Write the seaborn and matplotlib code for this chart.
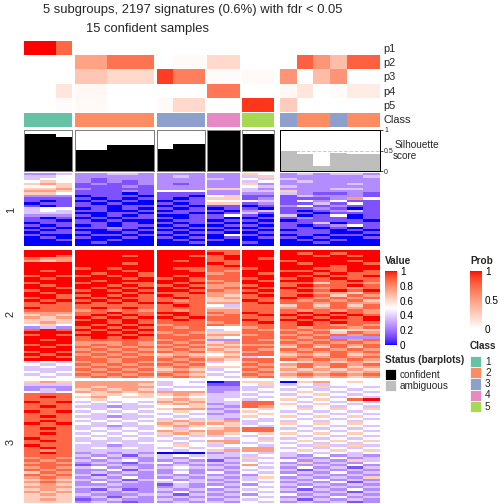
import numpy as np
import matplotlib
matplotlib.use("Agg")
import matplotlib.pyplot as plt
import seaborn as sns
from matplotlib.colors import ListedColormap, Normalize, to_rgb
from matplotlib.patches import Rectangle
from matplotlib.cm import ScalarMappable

sns.set_style("white")
plt.rcParams['font.family'] = ['Liberation Sans', 'DejaVu Sans']

# ---- data ----
group_sizes = [3, 5, 3, 2, 2, 6]          # last group = ambiguous samples
sample_class = [1, 1, 1, 2, 2, 2, 2, 2, 3, 3, 3, 4, 4, 5, 5, 3, 2, 2, 3, 2, 2]
silhouette = [0.90, 0.90, 0.82, 0.51, 0.51, 0.63, 0.63, 0.63, 0.54, 0.66, 0.66,
              0.98, 0.98, 0.90, 0.90, 0.50, 0.41, 0.12, 0.45, 0.42, 0.42]
p1 = [1.00, 1.00, 0.75, 0, 0, 0, 0, 0, 0, 0, 0, 0, 0, 0, 0, 0, 0, 0, 0, 0, 0]
p2 = [0, 0, 0, 0.48, 0.48, 0.70, 0.70, 0.70, 0, 0.03, 0.03, 0.20, 0.20, 0, 0,
      0, 0.78, 0.55, 0.35, 0.78, 0.78]
p3 = [0, 0, 0, 0.30, 0.30, 0.20, 0.20, 0.20, 0.90, 0.65, 0.65, 0.02, 0.02, 0.03, 0.03,
      0.55, 0, 0.35, 0.55, 0, 0]
p4 = [0, 0, 0.13, 0.04, 0.04, 0, 0, 0, 0, 0, 0, 0.68, 0.68, 0, 0,
      0.04, 0.13, 0, 0.02, 0.10, 0.10]
p5 = [0, 0, 0.02, 0.03, 0.03, 0, 0, 0, 0.03, 0.20, 0.20, 0, 0, 0.92, 0.92,
      0.27, 0, 0, 0, 0, 0]
class_colors = ["#66C2A5", "#FC8D62", "#8DA0CB", "#E78AC3", "#A6D854"]

# heatmap rows, one digit per sample: value = digit / 8  (0 blue, 4 white, 8 red)
block1 = [
    "223 22332 222 22 54 232332", "334 22222 232 22 35 222223", "344 21222 222 32 43 322222",
    "454 21212 222 22 34 232222", "565 12112 212 22 52 222232", "445 11121 222 22 43 322222",
    "556 21111 222 55 32 222332", "665 11121 444 22 33 522222", "554 11101 111 22 22 321121",
    "222 01110 110 45 11 132221", "111 10101 101 55 12 111264", "101 01010 011 44 43 142411",
    "011 10100 101 55 12 113141", "101 11011 010 11 01 241211", "344 01010 101 01 10 112101",
    "343 11001 011 10 23 101231", "333 00110 110 01 31 110111", "222 10101 001 14 10 301401",
    "101 01011 101 10 01 121101", "110 10100 011 01 10 011110", "011 11010 101 10 01 113011",
    "101 01011 010 01 10 101241", "010 11210 101 10 01 110101", "101 00101 010 01 10 011010",
    "011 10010 101 10 01 111001", "100 01101 010 04 10 010110", "010 10010 101 01 01 101001",
    "001 00100 010 10 00 010100", "000 01000 001 00 10 001000", "000 00000 000 00 00 000000",
]
block2 = [
    "888 88888 888 77 88 888888", "888 88888 888 87 88 878788", "887 88878 887 78 88 887878",
    "766 88888 888 78 87 888888", "656 88888 878 77 88 788878", "888 88878 888 87 88 878887",
    "888 88888 888 78 88 888788", "888 78788 877 77 78 887788", "878 88878 887 76 88 778787",
    "888 87887 888 67 87 887877", "787 78787 878 77 88 878778", "878 88878 787 77 78 787877",
    "888 87888 887 67 87 887787", "788 78877 878 76 88 775776", "878 88787 787 66 78 787787",
    "887 87878 878 67 87 876767", "788 78787 887 76 78 787878", "878 88878 778 66 87 776657",
    "887 78787 877 65 78 787576", "787 87877 787 56 77 876767", "878 78787 767 55 87 767675",
    "787 87878 877 66 78 776766", "777 77777 787 43 77 575757", "877 78787 777 55 77 676767",
    "777 67676 767 66 77 767676", "666 77877 887 76 87 787876", "565 78787 787 67 78 878787",
    "656 87878 878 77 77 787878", "555 78787 787 77 87 878778", "565 88787 777 67 78 787877",
    "454 87878 677 76 77 787676", "232 78787 767 44 67 767767", "787 87878 777 34 76 676455",
    "888 78787 676 55 77 767576", "787 88878 767 66 67 676767", "888 78787 777 54 77 767222",
    "878 77777 676 22 76 676767", "888 66676 767 56 77 767676", "787 67676 676 65 66 676767",
    "878 76767 767 56 77 575757", "888 67676 676 65 76 767676", "787 76767 767 56 67 676767",
    "878 67676 565 45 77 565756", "787 76767 676 56 34 676767", "888 77677 767 65 77 767676",
    "343 67676 676 34 67 456565", "434 76767 767 44 76 676767", "343 67676 676 55 67 575756",
    "333 76767 565 34 76 656565", "434 67676 676 43 67 565656", "343 76767 765 34 76 676767",
    "434 67676 676 43 67 565656",
]
block3 = [
    "565 66666 343 01 55 056454", "333 66665 344 11 45 343444", "222 65666 433 22 33 435343",
    "232 56565 344 22 34 343434", "434 65656 666 23 43 454343", "777 45545 565 33 34 345434",
    "787 56455 454 33 43 434343", "777 45444 565 34 34 545478", "878 34343 656 33 77 434343",
    "777 43434 565 23 77 545434", "787 33233 445 32 76 434343", "777 43434 566 23 45 454545",
    "878 34343 454 32 54 343434", "777 43434 343 23 45 434343", "787 33233 434 33 54 545454",
    "777 43434 343 32 43 434343", "787 34343 565 56 33 343434", "878 43434 656 65 34 545454",
    "777 33233 565 45 43 434343", "787 34343 434 56 77 343434", "777 43434 656 66 77 434343",
    "787 34343 565 65 45 545454", "777 43434 343 34 34 434343", "877 34343 434 43 43 343434",
    "787 33333 343 66 45 454545", "777 43434 434 56 34 343434", "877 33233 454 34 43 435353",
    "787 34343 343 43 66 343434", "767 33333 434 56 66 454545", "787 23232 000 23 43 343434",
    "777 32313 343 33 34 324232", "676 24232 324 32 53 232423", "767 32342 232 13 34 423253",
    "676 23213 423 32 43 252324", "777 12322 232 23 64 323242", "676 34232 343 32 43 242313",
    "767 22413 232 23 34 313232", "576 23232 242 42 43 232423", "767 31322 323 23 24 423232",
    "676 23242 232 32 35 232325", "565 32313 423 23 34 324232", "676 24232 343 32 43 232413",
    "565 22322 132 23 24 323232", "666 33222 232 42 43 242323", "565 21312 323 23 34 313242",
    "656 23232 242 32 43 232313", "565 32223 313 23 24 423232", "555 23132 232 32 43 232423",
    "565 12322 323 23 34 313232", "555 23212 232 32 43 232312",
]
row_labels = ["1", "2", "3"]


# ---- colours interpolated in LAB like ComplexHeatmap ----
M = np.array([[0.4124, 0.3576, 0.1805], [0.2126, 0.7152, 0.0722], [0.0193, 0.1192, 0.9505]])
WHITE_PT = np.array([0.95047, 1.0, 1.08883])


def to_lab(c):
    rgb = np.array(to_rgb(c))
    lin = np.where(rgb <= 0.04045, rgb / 12.92, ((rgb + 0.055) / 1.055) ** 2.4)
    xyz = M @ lin / WHITE_PT
    f = np.where(xyz > 0.008856, np.cbrt(xyz), 7.787 * xyz + 16 / 116)
    return np.array([116 * f[1] - 16, 500 * (f[0] - f[1]), 200 * (f[1] - f[2])])


def from_lab(lab):
    fy = (lab[:, 0] + 16) / 116
    f = np.stack([fy + lab[:, 1] / 500, fy, fy - lab[:, 2] / 200], -1)
    xyz = np.where(f > 0.2069, f ** 3, (f - 16 / 116) / 7.787) * WHITE_PT
    lin = np.clip(xyz @ np.linalg.inv(M).T, 0, 1)
    rgb = np.where(lin <= 0.0031308, 12.92 * lin, 1.055 * lin ** (1 / 2.4) - 0.055)
    return np.clip(rgb, 0, 1)


def lab_cmap(colors):
    labs = np.array([to_lab(c) for c in colors])
    t = np.linspace(0, 1, 256)
    pos = np.linspace(0, 1, len(colors))
    lab = np.stack([np.interp(t, pos, labs[:, i]) for i in range(3)], -1)
    return ListedColormap(from_lab(lab))


value_cmap = lab_cmap(["#0000FF", "#FFFFFF", "#FF0000"])
prob_cmap = lab_cmap(["#FFFFFF", "#FF0000"])
class_cmap = ListedColormap(class_colors)


def parse(block):
    return np.array([[int(d) / 8 for d in r.replace(" ", "")] for r in block])


blocks = [parse(block1), parse(block2), parse(block3)]
probs = np.array([p1, p2, p3, p4, p5])
classes = np.array([sample_class])

# ---- layout in pixels ----
W = H = 504
fig = plt.figure(figsize=(7, 7), dpi=72)


def add_ax(x0, y0, x1, y1):
    return fig.add_axes([x0 / W, 1 - y1 / H, (x1 - x0) / W, (y1 - y0) / H])


def hm(data, ax, cmap, vmin=0, vmax=1):
    sns.heatmap(data, ax=ax, cmap=cmap, vmin=vmin, vmax=vmax, cbar=False,
                xticklabels=False, yticklabels=False, linewidths=0, antialiased=False)


ov = add_ax(0, 0, W, H)
ov.set_xlim(0, W)
ov.set_ylim(H, 0)
ov.axis("off")

group_x = [(24, 72), (75, 154), (157, 205), (207, 240), (242, 274), (280, 380)]
block_y = [(173, 246), (250, 378), (381, 503)]
starts = np.cumsum([0] + group_sizes)

for g, (x0, x1) in enumerate(group_x):
    sl = slice(starts[g], starts[g + 1])
    n = group_sizes[g]
    ambiguous = g == len(group_x) - 1

    hm(probs[:, sl], add_ax(x0, 41, x1, 112), prob_cmap)
    hm(classes[:, sl], add_ax(x0, 113, x1, 127), class_cmap, 0.5, 5.5)

    ax = add_ax(x0, 130, x1, 171)
    ax.axhline(0.5, color="#CCCCCC", ls="--", lw=1, zorder=0)
    sns.barplot(x=list(range(n)), y=silhouette[sl], ax=ax, width=1, saturation=1,
                color="#BEBEBE" if ambiguous else "black", linewidth=0, zorder=2)
    ax.set_xlim(-0.5, n - 0.5)
    ax.set_ylim(0, 1)
    ax.set_xticks([])
    ax.set_yticks([])
    ax.set_xlabel("")
    ax.set_ylabel("")
    for s in ax.spines.values():
        s.set_visible(True)
        s.set_color("black" if ambiguous else "#7F7F7F")
        s.set_linewidth(1)
    if ambiguous:
        ax.yaxis.tick_right()
        ax.set_yticks([0, 0.5, 1])
        ax.set_yticklabels(["0", "0.5", "1"])
        ax.tick_params(axis="y", right=True, length=3, width=0.8, pad=1, labelsize=7)

    for b, (y0, y1) in enumerate(block_y):
        hm(blocks[b][:, sl], add_ax(x0, y0, x1, y1), value_cmap)

# titles
fig.text(193 / W, 1 - 10 / H, "5 subgroups, 2197 signatures (0.6%) with fdr < 0.05",
         ha="center", va="center", fontsize=13)
fig.text(148 / W, 1 - 29 / H, "15 confident samples", ha="center", va="center", fontsize=13)

# annotation names
for name, y in zip(["p1", "p2", "p3", "p4", "p5", "Class"], [49, 63, 77, 92, 106, 120]):
    ov.text(383, y, name, ha="left", va="center", fontsize=11)
ov.text(395, 145, "Silhouette", ha="left", va="center", fontsize=10)
ov.text(393, 156, "score", ha="left", va="center", fontsize=10)

for lab, (y0, y1) in zip(row_labels, block_y):
    ov.text(11, (y0 + y1) / 2, lab, ha="center", va="center", fontsize=11, rotation=90)

# Value legend
ov.text(385, 261, "Value", ha="left", va="center", fontsize=10, fontweight="bold")
cax = add_ax(385, 271, 397, 345)
cb = fig.colorbar(ScalarMappable(Normalize(0, 1), value_cmap), cax=cax,
                  ticks=[0, 0.2, 0.4, 0.6, 0.8, 1])
cb.outline.set_visible(False)
cb.ax.set_yticklabels(["0", "0.2", "0.4", "0.6", "0.8", "1"])
cb.ax.tick_params(direction="in", colors="white", length=3, width=1, left=True,
                  labelcolor="black", labelsize=10, pad=3)

# Prob legend
ov.text(470, 261, "Prob", ha="left", va="center", fontsize=10, fontweight="bold")
cax = add_ax(470, 271, 482, 329)
cb = fig.colorbar(ScalarMappable(Normalize(0, 1), prob_cmap), cax=cax, ticks=[0, 0.5, 1])
cb.outline.set_visible(False)
cb.ax.set_yticklabels(["0", "0.5", "1"])
cb.ax.tick_params(direction="in", colors="white", length=3, width=1, left=True,
                  labelcolor="black", labelsize=10, pad=3)

# Class legend
ov.text(470, 346, "Class", ha="left", va="center", fontsize=10, fontweight="bold")
for i, c in enumerate(class_colors):
    y = 356 + i * 11.2
    ov.add_patch(Rectangle((470, y), 11, 11.2, facecolor=c, edgecolor="white", lw=0.8))
    ov.text(485, y + 5.8, str(i + 1), ha="left", va="center", fontsize=10)

# Status legend
ov.text(385, 360, "Status (barplots)", ha="left", va="center", fontsize=10, fontweight="bold")
for i, (c, lab) in enumerate([("black", "confident"), ("#BEBEBE", "ambiguous")]):
    y = 369 + i * 11
    ov.add_patch(Rectangle((385, y), 11, 11, facecolor=c, edgecolor="white", lw=0.8))
    ov.text(400, y + 5.8, lab, ha="left", va="center", fontsize=10)

fig.savefig("out.png", dpi=72)
